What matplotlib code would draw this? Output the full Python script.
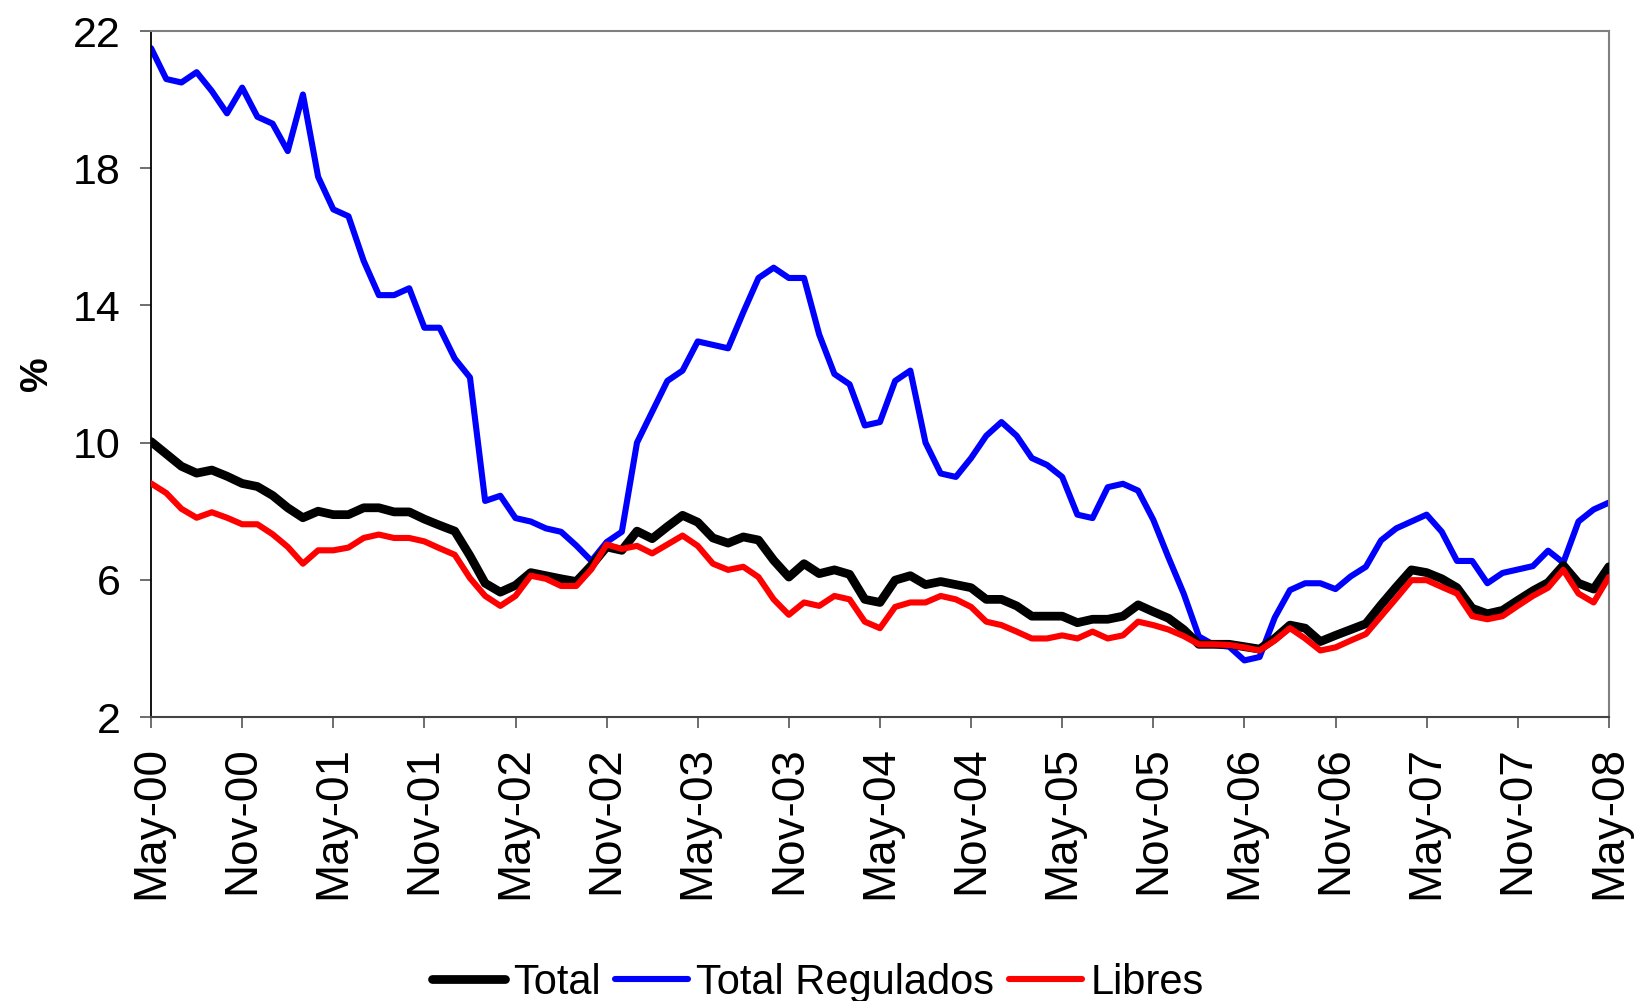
import matplotlib
matplotlib.use("Agg")
import matplotlib.pyplot as plt
import numpy as np

plt.rcParams['font.family'] = ['Liberation Sans', 'DejaVu Sans']

# Monthly data, May-00 .. May-08
total = [10.03, 9.67, 9.31, 9.11, 9.20, 9.02, 8.81, 8.72, 8.46, 8.10,
         7.81, 8.00, 7.90, 7.90, 8.10, 8.10, 7.98, 7.98, 7.77, 7.59,
         7.42, 6.70, 5.90, 5.64, 5.84, 6.21, 6.12, 6.03, 5.95, 6.42,
         6.96, 6.86, 7.42, 7.20, 7.55, 7.88, 7.68, 7.22, 7.07, 7.25,
         7.16, 6.57, 6.08, 6.47, 6.18, 6.29, 6.16, 5.43, 5.34, 5.99,
         6.12, 5.86, 5.95, 5.86, 5.77, 5.43, 5.43, 5.24, 4.94, 4.94,
         4.94, 4.75, 4.85, 4.85, 4.94, 5.27, 5.07, 4.88, 4.55, 4.12,
         4.12, 4.12, 4.05, 3.98, 4.29, 4.68, 4.59, 4.20, 4.38, 4.55,
         4.72, 5.27, 5.79, 6.29, 6.21, 6.03, 5.77, 5.17, 5.01, 5.11,
         5.40, 5.68, 5.92, 6.42, 5.90, 5.73, 6.38]

regulados = [21.50, 20.60, 20.50, 20.80, 20.25, 19.60, 20.35, 19.50, 19.30, 18.50,
             20.15, 17.75, 16.80, 16.60, 15.30, 14.30, 14.30, 14.50, 13.35, 13.35,
             12.45, 11.90, 8.30, 8.45, 7.80, 7.70, 7.50, 7.40, 7.00, 6.55,
             7.10, 7.40, 10.00, 10.90, 11.80, 12.10, 12.95, 12.85, 12.75, 13.80,
             14.80, 15.10, 14.80, 14.80, 13.15, 12.00, 11.70, 10.50, 10.60, 11.80,
             12.10, 10.00, 9.10, 9.00, 9.55, 10.20, 10.60, 10.20, 9.55, 9.35,
             9.00, 7.90, 7.80, 8.70, 8.80, 8.60, 7.75, 6.65, 5.60, 4.35,
             4.10, 4.05, 3.65, 3.75, 4.90, 5.70, 5.90, 5.90, 5.73, 6.10,
             6.38, 7.15, 7.50, 7.70, 7.90, 7.40, 6.55, 6.55, 5.90, 6.20,
             6.30, 6.40, 6.85, 6.50, 7.70, 8.05, 8.25]

libres = [8.81, 8.53, 8.07, 7.81, 7.97, 7.81, 7.62, 7.62, 7.33, 6.96,
          6.47, 6.86, 6.86, 6.94, 7.22, 7.32, 7.22, 7.22, 7.12, 6.92,
          6.73, 6.05, 5.53, 5.24, 5.53, 6.12, 6.03, 5.82, 5.82, 6.31,
          7.03, 6.90, 6.99, 6.77, 7.03, 7.29, 6.99, 6.47, 6.29, 6.38,
          6.08, 5.43, 4.98, 5.34, 5.24, 5.53, 5.43, 4.78, 4.59, 5.21,
          5.34, 5.34, 5.53, 5.43, 5.21, 4.78, 4.68, 4.49, 4.29, 4.29,
          4.38, 4.29, 4.49, 4.29, 4.38, 4.78, 4.68, 4.55, 4.36, 4.12,
          4.12, 4.10, 4.03, 3.94, 4.23, 4.59, 4.29, 3.94, 4.03, 4.23,
          4.42, 4.94, 5.46, 5.99, 5.99, 5.79, 5.60, 4.94, 4.85, 4.94,
          5.24, 5.53, 5.77, 6.29, 5.60, 5.34, 6.08]

tick_labels = ['May-00', 'Nov-00', 'May-01', 'Nov-01', 'May-02', 'Nov-02',
               'May-03', 'Nov-03', 'May-04', 'Nov-04', 'May-05', 'Nov-05',
               'May-06', 'Nov-06', 'May-07', 'Nov-07', 'May-08']
y_ticks = [2, 6, 10, 14, 18, 22]

fig = plt.figure(figsize=(16.35, 10.01), dpi=100)
ax = fig.add_axes([0.0924, 0.2837, 0.984 - 0.0924, 0.969 - 0.2837])

x = np.arange(len(total))
ax.plot(x, total, color='black', lw=6.3, solid_joinstyle='round', solid_capstyle='round', label='Total', zorder=3)
ax.plot(x, regulados, color='#0000FF', lw=4.4, solid_joinstyle='round', solid_capstyle='round', label='Total Regulados', zorder=2)
ax.plot(x, libres, color='#FF0000', lw=4.4, solid_joinstyle='round', solid_capstyle='round', label='Libres', zorder=4)

ax.set_xlim(0, len(total) - 1)
ax.set_ylim(2, 22)
ax.set_yticks(y_ticks)
ax.set_yticklabels([str(v) for v in y_ticks])
ax.set_xticks(np.arange(0, len(total), 6))
ax.set_xticklabels(tick_labels, rotation=90)

ax.tick_params(axis='y', labelsize=31, length=8, width=1.2, color='#555555', pad=14, direction='out')
ax.tick_params(axis='x', labelsize=33, length=8, width=1.2, color='#555555', pad=13, direction='out')

ax.spines['left'].set_color('black')
ax.spines['left'].set_linewidth(1.3)
ax.spines['bottom'].set_color('#444444')
ax.spines['bottom'].set_linewidth(1.5)
for s in ['top', 'right']:
    ax.spines[s].set_color('#808080')
    ax.spines[s].set_linewidth(1.5)

ax.set_ylabel('%', fontsize=28, fontweight='bold')
ax.yaxis.set_label_coords(-0.066, 0.5)

h, l = ax.get_legend_handles_labels()
fig.legend(h, l, loc='center', bbox_to_anchor=(0.5, 0.018), ncol=3, frameon=False,
           fontsize=30, handlelength=1.75, handletextpad=0.2, columnspacing=0.35)

fig.savefig('out.png', dpi=100)
